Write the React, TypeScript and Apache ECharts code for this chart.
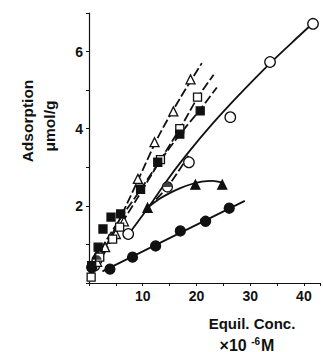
import React, { useEffect, useRef } from "react";
import * as echarts from "echarts";

// ---- data (x: equil. conc. ×10^-6 M, y: adsorption µmol/g) ----
const openCircles: number[][] = [[1.0, 0.45], [7.3, 1.27], [18.6, 3.13], [26.3, 4.3], [33.7, 5.73], [41.7, 6.72]];
const openCircleFit: number[][] = [[7.3, 1.25], [11, 1.95], [15, 2.75], [19, 3.47], [23, 4.13], [27, 4.74], [31, 5.32], [35, 5.87], [39, 6.39], [42, 6.78]];

const halfCircles: number[][] = [[1.5, 0.6], [14.6, 2.49]];
const halfCircleFit: number[][] = [[10.9, 1.95], [14.6, 2.49], [18.5, 3.3]];

const filledTriangles: number[][] = [[1.5, 0.75], [10.9, 1.95], [19.8, 2.55], [24.8, 2.55]];
const filledTriangleFit: number[][] = [[10.9, 1.95], [13, 2.17], [15, 2.33], [17, 2.46], [19, 2.56], [21, 2.63], [23, 2.65], [24.8, 2.6]];

const filledCircles: number[][] = [[0.5, 0.4], [3.9, 0.36], [8.1, 0.67], [12.4, 0.96], [17, 1.35], [21.7, 1.6], [26.1, 1.94]];
const filledCircleFit: number[][] = [[2.5, 0.3], [29, 2.13]];

const openTriangles: number[][] = [[1.5, 0.55], [3.0, 0.93], [5.0, 1.27], [6.5, 1.6], [9.1, 2.7], [12.2, 3.65], [15.7, 4.45], [18.9, 5.28]];
const openTriangleFit: number[][] = [[1, 0.4], [5, 1.45], [9, 2.63], [13, 3.82], [17, 4.8], [21, 5.7]];

const openSquares: number[][] = [[0.4, 0.15], [2.0, 0.67], [4.4, 1.14], [5.7, 1.45], [13.3, 3.2], [16.9, 4.0], [20.2, 4.82]];
const openSquareFit: number[][] = [[0.5, 0.2], [5, 1.3], [9, 2.2], [13, 3.12], [17, 4.02], [20.2, 4.8], [23.2, 5.4]];

const filledSquares: number[][] = [[0.5, 0.45], [1.7, 0.93], [2.6, 1.4], [4.1, 1.71], [5.9, 1.79], [9.6, 2.43], [12.8, 3.13], [16.9, 3.86], [20.7, 4.46]];
const filledSquareFit: number[][] = [[1, 0.6], [5, 1.5], [9, 2.3], [13, 3.12], [17, 3.87], [20.7, 4.5], [23.8, 5.07]];

const xLabels = [10, 20, 30, 40];
const yLabels = [2, 4, 6];

const FONT = "'Liberation Sans', Arial, sans-serif";
const INK = "#111";

export default function App() {
  const ref = useRef<HTMLDivElement>(null);
  useEffect(() => {
    if (!ref.current) return;
    const chart = echarts.init(ref.current, undefined, { renderer: "svg" });
    const fitLine = (data: number[][], dashed: boolean) => ({
      type: "line",
      data,
      smooth: 0.3,
      showSymbol: false,
      symbol: "none",
      silent: true,
      z: 2,
      lineStyle: { color: INK, width: 1.8, type: dashed ? [9, 3] : "solid" },
    });
    const marks = (data: number[][], symbol: string, size: number, filled: boolean, extra: any = {}) => ({
      type: "scatter",
      data,
      symbol,
      symbolSize: size,
      z: 5,
      itemStyle: { color: filled ? INK : "#fff", borderColor: INK, borderWidth: 1.3, opacity: 1 },
      ...extra,
    });
    chart.setOption({
      animation: false,
      backgroundColor: "#fff",
      grid: { left: 89, top: 13, width: 234, height: 270, containLabel: false },
      xAxis: {
        type: "value",
        min: 0,
        max: 43,
        interval: 5,
        axisLine: { show: true, lineStyle: { color: INK, width: 1.2 } },
        axisTick: { show: true, length: 3, lineStyle: { color: INK } },
        splitLine: { show: false },
        axisLabel: {
          margin: 6,
          color: INK,
          fontFamily: FONT,
          fontWeight: "bold",
          fontSize: 14,
          formatter: (v: number) => (xLabels.includes(v) ? String(v) : ""),
        },
      },
      yAxis: {
        type: "value",
        min: 0,
        max: 7,
        interval: 1,
        axisLine: { show: true, lineStyle: { color: INK, width: 1.2 } },
        axisTick: { show: true, length: 3, lineStyle: { color: INK } },
        splitLine: { show: false },
        axisLabel: {
          margin: 6,
          color: INK,
          fontFamily: FONT,
          fontWeight: "bold",
          fontSize: 14,
          formatter: (v: number) => (yLabels.includes(v) ? String(v) : ""),
        },
      },
      graphic: [
        {
          type: "text",
          x: 27,
          y: 121,
          rotation: Math.PI / 2,
          style: { text: "Adsorption", align: "center", verticalAlign: "middle", fill: INK, font: `bold 15.5px ${FONT}` },
        },
        {
          type: "text",
          x: 49,
          y: 126,
          rotation: Math.PI / 2,
          style: { text: "μmol/g", align: "center", verticalAlign: "middle", fill: INK, font: `bold 15.5px ${FONT}` },
        },
        {
          type: "text",
          x: 252,
          y: 323,
          style: { text: "Equil. Conc.", align: "center", verticalAlign: "middle", fill: INK, font: `bold 15px ${FONT}` },
        },
        {
          type: "text",
          x: 247,
          y: 345,
          style: {
            text: "{a|×10 }{b|-6}{a|M}",
            align: "center",
            verticalAlign: "middle",
            fill: INK,
            rich: {
              a: { fontFamily: FONT, fontWeight: "bold", fontSize: 16, fill: INK, color: INK },
              b: { fontFamily: FONT, fontWeight: "bold", fontSize: 10, fill: INK, color: INK, padding: [0, 1, 8, 0] },
            },
          },
        },
      ],
      series: [
        fitLine(openCircleFit, false),
        fitLine(halfCircleFit, true),
        fitLine(filledTriangleFit, false),
        fitLine(filledCircleFit, false),
        fitLine(openTriangleFit, true),
        fitLine(openSquareFit, true),
        fitLine(filledSquareFit, true),
        marks(openCircles, "circle", 10.5, false),
        marks(halfCircles, "circle", 10, false),
        marks(halfCircles, "path://M0,10 A10,10 0 0 1 20,10 Z", 9, true, {
          symbolSize: [9, 4.5],
          symbolOffset: [0, -2.25],
          z: 6,
          itemStyle: { color: INK, borderWidth: 0 },
        }),
        marks(filledTriangles, "triangle", 9, true),
        marks(filledCircles, "circle", 10, true),
        marks(openTriangles, "triangle", 9, false),
        marks(openSquares, "rect", 8, false),
        marks(filledSquares, "rect", 8, true),
      ],
    });
    return () => chart.dispose();
  }, []);
  return <div ref={ref} style={{ width: 323, height: 352, position: "absolute", left: 0, top: 0 }} />;
}
